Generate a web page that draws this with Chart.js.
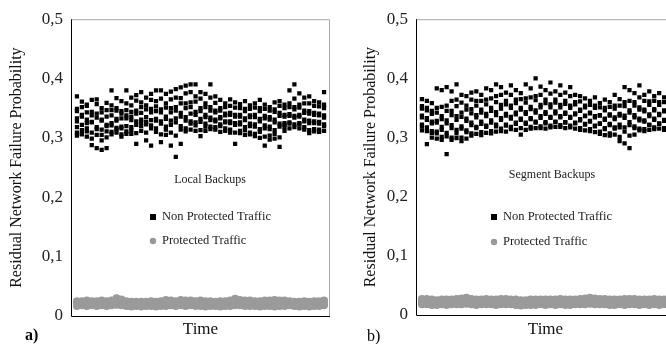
<!DOCTYPE html>
<html lang="en">
  <head>
    <meta charset="UTF-8" />
    <title>Residual Network Failure Probability</title>
    <script src="https://cdn.jsdelivr.net/npm/chart.js@4.4.0/dist/chart.umd.min.js"></script>
    <style>
      html, body { margin: 0; padding: 0; background: #fff; overflow: hidden; }
      #wrap { position: relative; width: 666px; height: 344px; overflow: hidden; }
      #chartA { position: absolute; left: 0; top: 0; }
      #chartB { position: absolute; left: 350px; top: 0; }
    </style>
  </head>
  <body>
    <div id="wrap">
      <canvas id="chartA" width="336" height="344"></canvas>
      <canvas id="chartB" width="328" height="344"></canvas>
    </div>

    <script>
      // values in thousandths, one inner array per time column
      const yTicks = [0, 0.1, 0.2, 0.3, 0.4, 0.5];

      const localNonProtected = [
        [370,349,345,333,328,318,309,304],[361,352,339,336,322,313,307,306],[356,354,343,331,325,316,311,302],
        [364,344,338,327,326,309,299,288],[365,357,341,334,318,315,305,283],[350,343,331,329,314,305,296,280],
        [359,347,336,322,320,311,301,283],[380,355,347,338,325,321,310,306],[367,350,346,332,329,317,314,309],
        [362,345,341,333,319,316,306,302],[380,358,347,338,333,320,311,307],[368,355,344,336,330,318,313,307],
        [372,363,346,341,328,322,308,290],[377,360,352,342,331,326,320,312],[368,355,348,335,327,323,309,296],
        [374,364,349,343,330,321,316,287],[380,362,353,345,332,329,316,310],[380,366,348,343,328,324,306,293],
        [374,358,351,336,332,319,314,305],[378,365,350,343,329,322,309,287],[382,368,352,346,333,326,304,268],
        [385,367,358,342,336,320,314,290],[388,375,358,350,335,329,316,311],[390,377,360,352,341,328,324,314],
        [390,370,361,344,339,326,321,312],[377,366,350,345,332,327,313,303],[374,358,352,339,335,324,319,312],
        [390,368,352,346,334,330,319,315],[370,359,346,343,331,328,318,314],[364,350,346,335,333,323,320,310],
        [358,352,341,338,328,326,316,312],[365,354,342,339,328,325,314,309],[360,351,339,336,325,322,309,290],
        [357,350,339,336,326,323,312,308],[362,349,345,333,330,318,313,305],[355,349,338,335,324,320,309,306],
        [358,351,339,335,323,319,307,303],[364,350,345,332,328,315,310,300],[356,349,337,333,321,316,302,287],
        [352,346,335,331,319,315,304,297],[360,348,344,331,326,313,307,299],[362,354,342,337,324,319,301,285],
        [356,350,339,336,325,322,312,318],[380,358,352,340,337,326,324,316],[390,366,352,348,337,334,323,318],
        [375,356,351,339,336,325,323,316],[368,358,346,342,331,328,318,314],[370,358,345,341,329,325,313,308],
        [362,354,342,339,328,325,315,311],[360,353,341,338,327,324,314,310],[377,356,350,338,334,323,320,312]
      ];

      const localProtected = [
        [17,21,25],[18,22,25],[17,21,26],[18,22,25],[17,21,25],[18,22,26],[17,21,25],[18,22,26],[19,23,30],
        [18,22,28],[17,21,25],[16,20,24],[17,21,24],[16,20,24],[17,21,24],[17,21,25],[16,20,24],[17,21,25],
        [17,22,27],[18,22,26],[17,21,25],[18,22,27],[17,21,26],[18,22,26],[17,21,25],[17,22,26],[16,21,25],
        [17,21,25],[17,21,24],[16,21,25],[17,21,25],[17,22,26],[18,23,29],[18,22,27],[17,21,26],[17,22,26],
        [17,21,25],[16,21,25],[17,21,26],[17,22,26],[16,21,27],[17,21,26],[17,22,26],[18,22,25],[17,21,24],
        [16,21,24],[17,21,25],[16,20,24],[17,21,25],[17,21,25],[18,22,26]
      ];

      const segmentNonProtected = [
        [365,353,349,337,334,322,319,312],[362,350,346,333,330,317,311,289],[358,345,340,327,324,311,308,300],
        [383,350,342,328,325,310,307,298],[380,352,336,331,318,313,301,296],[385,354,345,329,324,308,302,272],
        [378,362,345,338,321,316,300,296],[390,364,353,336,330,313,307,299],[372,359,342,335,319,315,300,294],
        [370,354,347,332,328,312,309,298],[376,364,348,341,325,321,307,303],[378,362,354,338,334,318,316,306],
        [372,362,347,342,327,323,309,304],[383,364,356,340,336,320,318,308],[380,366,350,345,329,325,311,307],
        [390,370,360,343,338,322,319,310],[385,372,355,349,333,330,315,311],[376,362,356,340,337,322,320,310],
        [388,372,354,350,335,332,318,314],[380,364,358,342,339,325,323,313],[375,365,350,347,332,330,316,305],
        [390,366,359,343,340,325,323,313],[383,368,352,348,333,331,318,315],[400,370,363,346,342,327,325,316],
        [386,372,355,351,336,333,319,316],[380,364,358,343,340,326,324,315],[393,374,356,351,335,333,320,317],
        [378,364,359,344,341,327,326,318],[388,372,355,351,336,334,321,318],[376,362,357,342,340,326,325,316],
        [385,370,354,350,335,333,320,317],[372,360,356,341,339,325,324,315],[370,361,347,345,331,329,316,313],
        [366,354,351,337,336,323,322,312],[362,355,342,341,328,327,314,311],[368,354,350,336,334,320,319,309],
        [358,351,338,337,324,323,310,306],[364,350,346,332,330,316,314,304],[360,352,339,337,323,321,307,303],
        [372,354,349,334,331,317,315,305],[365,354,340,337,322,317,301,294],[385,360,353,337,333,317,310,290],
        [380,362,346,342,326,321,303,282],[375,360,354,338,334,319,316,305],[388,368,351,347,332,329,315,312],
        [372,362,347,344,329,327,314,311],[378,361,355,339,336,322,321,313],[370,362,348,346,332,330,317,314],
        [375,360,355,340,338,324,323,315],[368,360,346,344,330,328,316,313],[372,358,353,338,336,322,321,312]
      ];

      const segmentProtected = [
        [18,22,27],[18,23,27],[17,22,26],[17,21,25],[18,22,26],[17,22,26],[18,22,26],[18,23,27],[18,23,28],
        [19,23,29],[18,22,27],[17,22,26],[18,22,26],[18,23,27],[18,22,26],[17,22,26],[18,22,27],[18,23,27],
        [18,22,26],[17,21,26],[16,21,25],[17,21,25],[17,22,26],[17,22,26],[18,22,26],[17,22,26],[18,22,26],
        [17,22,26],[18,22,27],[17,22,26],[17,22,26],[18,22,26],[18,23,27],[18,23,28],[19,23,29],[18,23,28],
        [18,23,27],[18,22,27],[17,22,26],[17,22,26],[18,22,26],[17,22,27],[18,22,27],[18,23,27],[17,22,26],
        [18,22,26],[17,22,26],[18,22,27],[17,22,26],[18,22,26],[17,22,26]
      ];

      function toPoints(cols) {
        const pts = [];
        cols.forEach((col, i) => {
          col.forEach(v => pts.push({ x: i + 1, y: v / 1000 }));
        });
        return pts;
      }

      const frame = {
        id: 'frame',
        beforeDatasetsDraw(chart) {
          const { ctx, chartArea: a } = chart;
          ctx.save();
          ctx.lineWidth = 1;
          ctx.strokeStyle = '#a8a8a8';
          ctx.beginPath();
          ctx.moveTo(a.left, a.top + 0.5);
          ctx.lineTo(a.right + 0.5, a.top + 0.5);
          ctx.lineTo(a.right + 0.5, a.bottom);
          ctx.stroke();
          ctx.strokeStyle = '#000';
          ctx.beginPath();
          ctx.moveTo(a.left - 0.5, a.top);
          ctx.lineTo(a.left - 0.5, a.bottom + 0.5);
          ctx.lineTo(a.right + 1, a.bottom + 0.5);
          ctx.stroke();
          ctx.restore();
        }
      };

      const notes = {
        id: 'notes',
        afterDraw(chart, args, o) {
          const ctx = chart.ctx;
          ctx.save();
          ctx.textBaseline = 'middle';
          ctx.fillStyle = '#222';
          ctx.font = '12px "Liberation Serif"';
          ctx.textAlign = 'center';
          ctx.fillText(o.title, o.titleX, o.titleY);
          ctx.textAlign = 'left';
          ctx.font = '12.5px "Liberation Serif"';
          ctx.fillStyle = '#000';
          ctx.fillRect(o.keyX - 3, o.keyY1 - 3, 6, 6);
          ctx.fillStyle = '#222';
          ctx.fillText('Non Protected Traffic', o.keyX + 9, o.keyY1);
          ctx.fillStyle = '#999';
          ctx.beginPath();
          ctx.arc(o.keyX, o.keyY2, 3.2, 0, Math.PI * 2);
          ctx.fill();
          ctx.fillStyle = '#222';
          ctx.fillText('Protected Traffic', o.keyX + 9, o.keyY2);
          ctx.font = o.tagFont;
          ctx.fillStyle = '#000';
          ctx.fillText(o.tag, o.tagX, o.tagY);
          ctx.restore();
        }
      };

      function makeChart(id, nonProt, prot, yWidth, xHeight, pad, titlePad, note) {
        const ctx = document.getElementById(id).getContext('2d');
        return new Chart(ctx, {
          type: 'scatter',
          data: {
            datasets: [
              {
                label: 'Protected Traffic',
                data: toPoints(prot),
                pointStyle: 'circle',
                pointRadius: 4,
                pointHoverRadius: 4,
                backgroundColor: '#9a9a9a',
                borderWidth: 0
              },
              {
                label: 'Non Protected Traffic',
                data: toPoints(nonProt),
                pointStyle: 'rect',
                pointRadius: 3,
                pointHoverRadius: 3,
                backgroundColor: '#000',
                borderWidth: 0
              }
            ]
          },
          options: {
            responsive: false,
            animation: false,
            events: [],
            layout: { padding: pad },
            plugins: {
              legend: { display: false },
              tooltip: { enabled: false },
              notes: note
            },
            scales: {
              x: {
                type: 'linear',
                min: 0,
                max: 52,
                grid: { display: false, drawTicks: false },
                border: { display: false },
                ticks: { display: false },
                title: {
                  display: true,
                  text: 'Time',
                  color: '#111',
                  font: { family: 'Liberation Serif', size: 17 },
                  padding: { top: 0, bottom: 4 }
                },
                afterFit: s => { s.height = xHeight; }
              },
              y: {
                min: 0,
                max: 0.5,
                afterBuildTicks: s => { s.ticks = yTicks.map(v => ({ value: v })); },
                grid: { display: false, drawTicks: false },
                border: { display: false },
                ticks: {
                  padding: 9,
                  color: '#222',
                  font: { family: 'Liberation Serif', size: 17 },
                  callback: v => v === 0 ? '0' : v.toFixed(1).replace('.', ',')
                },
                title: {
                  display: true,
                  text: 'Residual Network Failure Probability',
                  color: '#111',
                  font: { family: 'Liberation Serif', size: 16 },
                  padding: { top: titlePad, bottom: 0 }
                },
                afterFit: s => { s.width = yWidth; }
              }
            }
          },
          plugins: [frame, notes]
        });
      }

      makeChart('chartA', localNonProtected, localProtected, 72, 28,
        { left: 0, right: 7, top: 16, bottom: 0 }, 7,
        { title: 'Local Backups', titleX: 210, titleY: 180, keyX: 153, keyY1: 217, keyY2: 241,
          tag: 'a)', tagX: 25, tagY: 336, tagFont: 'bold 16px "Liberation Serif"' });

      makeChart('chartB', segmentNonProtected, segmentProtected, 67, 29,
        { left: 0, right: 4, top: 13, bottom: 0 }, 11,
        { title: 'Segment Backups', titleX: 202, titleY: 175, keyX: 144, keyY1: 217, keyY2: 242,
          tag: 'b)', tagX: 17, tagY: 337, tagFont: '16px "Liberation Serif"' });
    </script>
  </body>
</html>
